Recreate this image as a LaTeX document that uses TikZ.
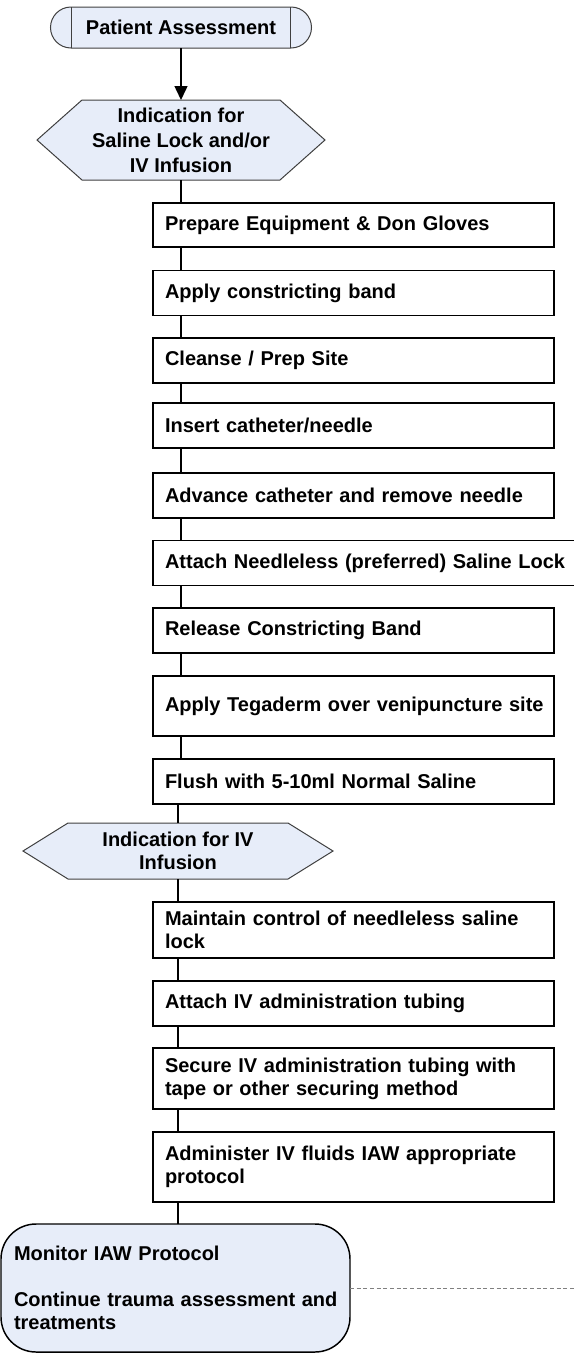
\documentclass[tikz,border=0pt]{standalone}
\usepackage{fontspec}
\setmainfont{Liberation Sans}
\usetikzlibrary{positioning,calc,arrows.meta,backgrounds}

\definecolor{shapefill}{RGB}{231,237,249}
\definecolor{shapeline}{RGB}{64,64,64}
\definecolor{dashgray}{RGB}{128,128,128}

\tikzset{every picture/.style={line width=0.75pt}}
\tikzset{
  flowfont/.style={font=\bfseries\fontsize{15}{17.25}\selectfont},
  stepbox/.style={flowfont, draw=black, line width=1.1pt, rectangle, anchor=north west,
    inner xsep=9pt, inner ysep=0pt, outer sep=0pt, text width=282.75pt, align=left},
  startbox/.style={flowfont, draw=shapeline, fill=shapefill, rounded corners=15.375pt,
    inner sep=0pt, outer sep=0pt, align=center},
  hexbox/.style={flowfont, inner sep=0pt, outer sep=0pt, align=center},
  hexline/.style={draw=shapeline, fill=shapefill, line width=0.75pt},
  endbox/.style={flowfont, draw=black, fill=shapefill, line width=1.1pt, rounded corners=26.25pt,
    anchor=north west, inner xsep=9.75pt, inner ysep=0pt, outer sep=0pt, text width=242.25pt, align=left},
  link/.style={line width=1.1pt},
  dashlink/.style={draw=dashgray, line width=0.5pt, dash pattern=on 3pt off 2pt}
}

\begin{document}
\begin{tikzpicture}[x=0.75pt,y=0.75pt,yscale=-1,xscale=1]
\useasboundingbox (0,0) rectangle (574,1353);
\clip (0,0) rectangle (574,1353);

%Shape: Terminator
\node[startbox, minimum width=195.75pt, minimum height=30.75pt] (start) at (181,27.5) {Patient Assessment};
\draw[shapeline] ($(start.north west)+(21,0)$) -- ($(start.south west)+(21,0)$);
\draw[shapeline] ($(start.north east)+(-21,0)$) -- ($(start.south east)+(-21,0)$);

%Shape: Hexagon
\node[hexbox, minimum width=216pt, minimum height=60pt, font=\bfseries\fontsize{15}{18.75}\selectfont] (ind1) at (181,140) {Indication for\\Saline Lock and/or\\IV Infusion};

%Shape: Rectangles
\node[stepbox, minimum height=33pt] (prep) at (153,203) {Prepare Equipment \& Don Gloves};
\node[stepbox, minimum height=33.75pt] (band) at (153,270.5) {Apply constricting band};
\node[stepbox, minimum height=33.75pt] (cleanse) at (153,338) {Cleanse / Prep Site};
\node[stepbox, minimum height=33.75pt] (insert) at (153,403) {Insert catheter/needle};
\node[stepbox, minimum height=33.75pt] (advance) at (153,473) {Advance catheter and remove needle};
\node[stepbox, minimum height=33.75pt, text width=312pt] (lock) at (153,540.5) {Attach Needleless (preferred) Saline Lock};
\node[stepbox, minimum height=33.75pt] (release) at (153,608) {Release Constricting Band};
\node[stepbox, minimum height=45pt] (tegaderm) at (153,676) {\mbox{Apply Tegaderm over venipuncture site}};
\node[stepbox, minimum height=33.75pt] (flush) at (153,759) {Flush with 5-10ml Normal Saline};

%Shape: Hexagon
\node[hexbox, minimum width=232.5pt, minimum height=42pt] (ind2) at (178,851) {Indication for IV\\Infusion};

%Shape: Rectangles
\node[stepbox, minimum height=42pt] (maintain) at (153,902) {Maintain control of needleless saline\\lock};
\node[stepbox, minimum height=33.75pt] (tubing) at (153,981) {Attach IV administration tubing};
\node[stepbox, minimum height=45.75pt] (secure) at (153,1048) {Secure IV administration tubing with\\tape or other securing method};
\node[stepbox, minimum height=52.5pt] (administer) at (153,1132) {Administer IV fluids IAW appropriate\\protocol};

%Shape: Rounded Rect
\node[endbox, minimum width=261.75pt, minimum height=96pt] (monitor) at (1,1224) {Monitor IAW Protocol\\\mbox{}\\\mbox{Continue trauma assessment and}\\treatments};
\coordinate (rightedge) at (576,1288);

%Hexagon outlines
\begin{scope}[on background layer]
\draw[hexline] (ind1.west) -- ($(ind1.north west)+(45,0)$) -- ($(ind1.north east)+(-45,0)$) -- (ind1.east) -- ($(ind1.south east)+(-45,0)$) -- ($(ind1.south west)+(45,0)$) -- cycle;
\draw[hexline] (ind2.west) -- ($(ind2.north west)+(45,0)$) -- ($(ind2.north east)+(-45,0)$) -- (ind2.east) -- ($(ind2.south east)+(-45,0)$) -- ($(ind2.south west)+(45,0)$) -- cycle;
\end{scope}

%Straight Lines
\draw[link, -{Triangle[length=10.5pt,width=9.75pt]}] (start) -- (ind1);
\draw[link] (ind1.south) -- (ind1.south |- prep.north);
\foreach \a/\b in {prep/band, band/cleanse, cleanse/insert, insert/advance, advance/lock, lock/release, release/tegaderm, tegaderm/flush}
  \draw[link] (\a.south -| ind1.south) -- (\b.north -| ind1.south);
\draw[link] (flush.south -| ind2.north) -- (ind2.north);
\draw[link] (ind2.south) -- (ind2.south |- maintain.north);
\foreach \a/\b in {maintain/tubing, tubing/secure, secure/administer, administer/monitor}
  \draw[link] (\a.south -| ind2.south) -- (\b.north -| ind2.south);

%Dashed Line
\draw[dashlink] (monitor.east) -- (monitor.east -| rightedge);

\end{tikzpicture}
\end{document}
